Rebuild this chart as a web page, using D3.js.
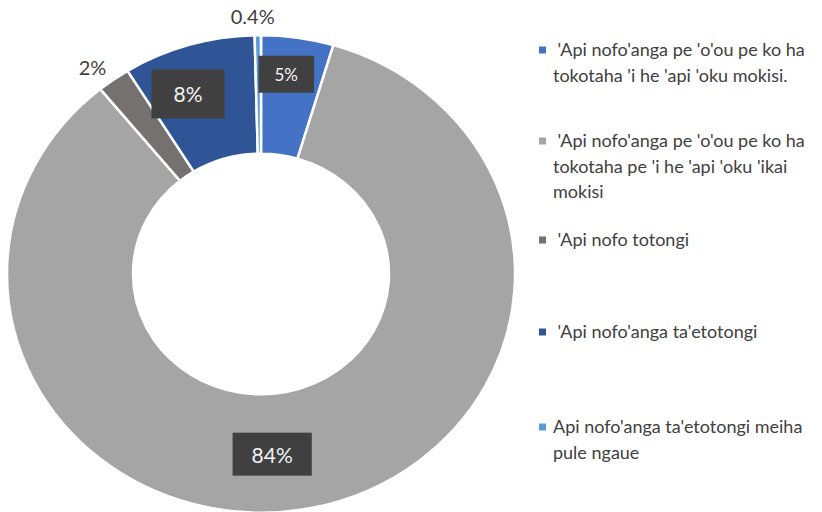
<!DOCTYPE html>
<html><head><meta charset="utf-8">
<script src="https://cdn.jsdelivr.net/npm/d3@7"></script>
<style>body{margin:0;background:#fff}svg{display:block}</style>
</head><body>
<svg id="c" width="822" height="512"></svg>
<script>
const categories = [
  " 'Api nofo'anga pe 'o'ou pe ko ha tokotaha 'i he 'api 'oku mokisi.",
  " 'Api nofo'anga pe 'o'ou pe ko ha tokotaha pe 'i he 'api 'oku 'ikai mokisi",
  " 'Api nofo totongi",
  " 'Api nofo'anga ta'etotongi",
  "Api nofo'anga ta'etotongi meiha pule ngaue"
];
const legendLines = [
  [" 'Api nofo'anga pe 'o'ou pe ko ha", "tokotaha 'i he 'api 'oku mokisi."],
  [" 'Api nofo'anga pe 'o'ou pe ko ha", "tokotaha pe 'i he 'api 'oku 'ikai", "mokisi"],
  [" 'Api nofo totongi"],
  [" 'Api nofo'anga ta'etotongi"],
  ["Api nofo'anga ta'etotongi meiha", "pule ngaue"]
];
const values = [4.6, 84.5, 2.1, 8.4, 0.4];
const labels = ["5%", "84%", "2%", "8%", "0.4%"];
const colors = ["#4472C4", "#A5A5A5", "#767171", "#2F5597", "#5B9BD5"];
const labelBoxed = [true, true, false, true, false];
const labelSize = [17, 21, 20, 21, 20];
const labelPadX = [16, 19, 0, 22, 0];
const labelPadY = [8, 9, 0, 12, 0];
const labelShiftDeg = [-1.5, 8, -2, -4.3, -1];
const labelRadius = [214, 192, 277, 205, 275];
const legendY = [50, 141, 240, 332, 427];

const svg = d3.select("#c");
const cx = 261, cy = 274, ky = 0.94, R = 254, r0 = 128;

const pie = d3.pie().sort(null).value(d => d)(values);
const arc = d3.arc().innerRadius(r0).outerRadius(R);

const g = svg.append("g").attr("transform", `translate(${cx},${cy}) scale(1,${ky})`);
g.selectAll("path").data(pie).join("path")
  .attr("d", arc)
  .attr("fill", (d, i) => colors[i])
  .attr("stroke", "#fff")
  .attr("stroke-width", 2.5)
  .attr("vector-effect", "non-scaling-stroke");

const font = "Lato, 'Open Sans', sans-serif";
pie.forEach((d, i) => {
  const a = (d.startAngle + d.endAngle) / 2 + labelShiftDeg[i] * Math.PI / 180;
  const x = cx + labelRadius[i] * Math.sin(a);
  const y = cy - labelRadius[i] * Math.cos(a) * ky;
  const lg = svg.append("g");
  const t = lg.append("text")
    .attr("x", x).attr("y", y)
    .attr("text-anchor", "middle")
    .attr("dominant-baseline", "central")
    .attr("font-family", font)
    .attr("font-size", labelSize[i])
    .attr("fill", labelBoxed[i] ? "#F2F2F2" : "#404040")
    .text(labels[i]);
  if (labelBoxed[i]) {
    const bb = t.node().getBBox();
    const px = labelPadX[i], py = labelPadY[i];
    lg.insert("rect", "text")
      .attr("x", bb.x - px).attr("y", bb.y - py)
      .attr("width", bb.width + 2 * px).attr("height", bb.height + 2 * py)
      .attr("fill", "#404040");
  }
});

const leg = svg.append("g");
legendLines.forEach((lines, i) => {
  leg.append("rect")
    .attr("x", 539).attr("y", legendY[i] - 3.5)
    .attr("width", 7).attr("height", 7)
    .attr("fill", colors[i]);
  const t = leg.append("text")
    .attr("font-family", font)
    .attr("font-size", 18)
    .attr("fill", "#404040")
    .attr("xml:space", "preserve");
  lines.forEach((ln, j) => {
    t.append("tspan")
      .attr("x", 553)
      .attr("y", legendY[i] + 6 + j * 25.5)
      .text(ln);
  });
});
</script>
</body></html>
